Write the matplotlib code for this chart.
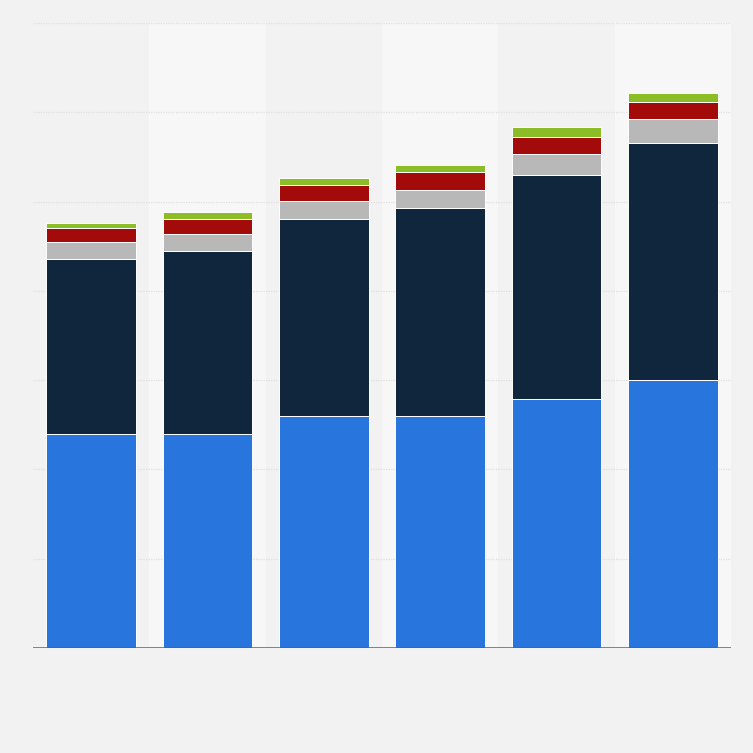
import numpy as np
import matplotlib
matplotlib.use('Agg')
import matplotlib.pyplot as plt

# six columns, five stacked segments (no labels in the chart)
columns = [0, 1, 2, 3, 4, 5]
seg_blue = [240, 240, 260, 260, 279, 300]
seg_navy = [196, 205, 220, 233, 251, 266]
seg_gray = [19, 19, 21, 20, 23, 26]
seg_red = [15, 17, 18, 20, 19, 20]
seg_green = [6, 7, 7, 8, 11, 10]

segments = [seg_blue, seg_navy, seg_gray, seg_red, seg_green]
colors = ['#2876dd', '#0f263d', '#b8b8b8', '#a30b0b', '#8bbd26']

fig = plt.figure(figsize=(7.53, 7.53), dpi=100, facecolor='#f2f2f2')
ax = fig.add_axes([33/753, 105/753, 698/753, 625/753])
ax.set_facecolor('#f2f2f2')

# lighter bands behind every second column
for c in columns[1::2]:
    ax.axvspan(c - 0.5, c + 0.5, color='#f7f7f7', zorder=0, lw=0)

for y in range(100, 701, 100):
    ax.axhline(y, color='#dedede', lw=0.9, ls=(0, (1, 1)), zorder=1)

bottom = np.zeros(len(columns))
for vals, col in zip(segments, colors):
    ax.bar(columns, vals, width=0.77, bottom=bottom, color=col,
           edgecolor='white', linewidth=0.7, zorder=3)
    bottom += np.array(vals)

ax.axhline(0, color='#566270', lw=1.8, zorder=4)

ax.set_xlim(-0.5, 5.5)
ax.set_ylim(0, 700)
ax.set_xticks([])
ax.set_yticks([])
for s in ax.spines.values():
    s.set_visible(False)

fig.savefig('out.png', dpi=100, facecolor=fig.get_facecolor())
